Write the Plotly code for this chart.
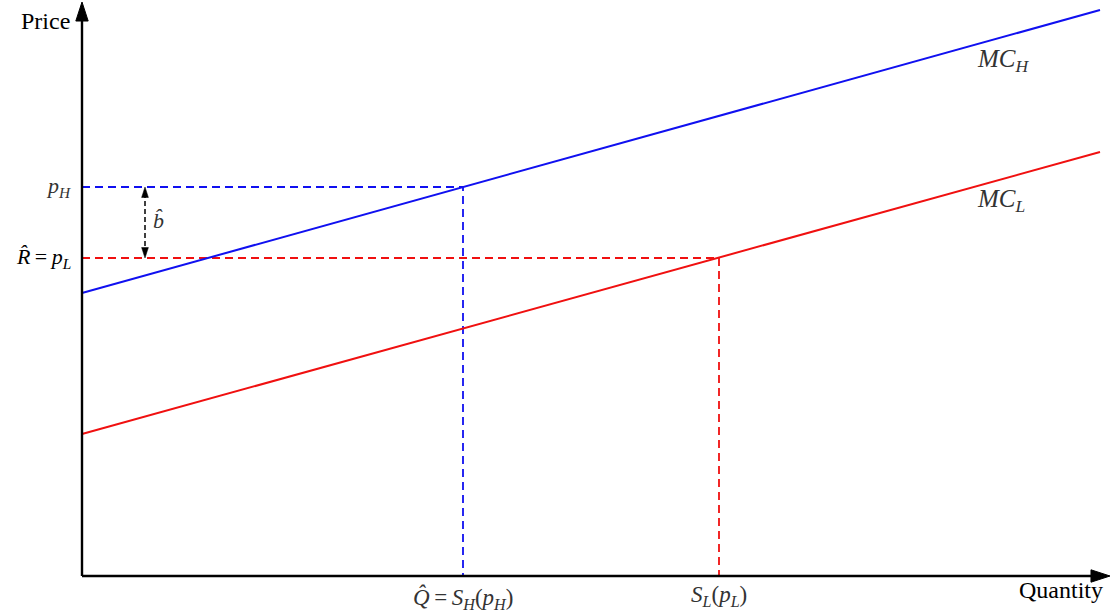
import plotly.graph_objects as go

# Marginal cost schedules (endpoints of each straight line)
quantity_ends = [0.0, 10.18]
mc_high = [2.83, 5.66]
mc_low = [1.42, 4.24]

# Prices and the quantities supplied at them
p_high = 3.89
p_low = 3.18
q_hat = 3.81
s_low = 6.37

# Axis extents
x_max = 10.28
y_max = 5.74

BLUE = "#1010f0"
RED = "#f01010"
SERIF = "Liberation Serif, DejaVu Serif, serif"
LABEL_GRAY = "#333333"

fig = go.Figure()

# Dashed guides from the price levels to the supply quantities
fig.add_trace(go.Scatter(
    x=[0, q_hat, q_hat], y=[p_high, p_high, 0], mode="lines",
    line=dict(color=BLUE, width=1.8, dash="8px,5px"), hoverinfo="skip"))
fig.add_trace(go.Scatter(
    x=[0, s_low, s_low], y=[p_low, p_low, 0], mode="lines",
    line=dict(color=RED, width=1.8, dash="8px,5px"), hoverinfo="skip"))

# Marginal cost curves
fig.add_trace(go.Scatter(x=quantity_ends, y=mc_high, mode="lines",
                         line=dict(color=BLUE, width=2), hoverinfo="skip"))
fig.add_trace(go.Scatter(x=quantity_ends, y=mc_low, mode="lines",
                         line=dict(color=RED, width=2), hoverinfo="skip"))

# Coordinate axes, each ending in an arrow tip
for ax_x, ax_y in (([0, x_max - 0.05], [0, 0]), ([0, 0], [0, y_max - 0.05])):
    fig.add_trace(go.Scatter(
        x=ax_x, y=ax_y, mode="lines", hoverinfo="skip",
        line=dict(color="black", width=2.4)))
fig.add_trace(go.Scatter(
    x=[x_max, 0], y=[0, y_max], mode="markers", hoverinfo="skip",
    marker=dict(symbol="arrow", angleref="up", angle=[90, 0], size=20,
                color="black", line=dict(color="black", width=1))))

# Double-headed dashed gap marker between the two prices
b_x = 0.63
fig.add_trace(go.Scatter(x=[b_x, b_x], y=[p_high - 0.06, p_low + 0.06], mode="lines",
                         line=dict(color="black", width=1.5, dash="5px,3px"),
                         hoverinfo="skip"))
fig.add_trace(go.Scatter(x=[b_x, b_x], y=[p_high, p_low], mode="markers",
                         hoverinfo="skip",
                         marker=dict(symbol="arrow", angleref="up", angle=[0, 180],
                                     size=11, color="black",
                                     line=dict(color="black", width=0.5))))

annotations = []


def label(x, y, text, xanchor="center", size=20, color="black", yanchor="middle"):
    annotations.append(dict(
        x=x, y=y, xref="x", yref="y", text=text, showarrow=False,
        xanchor=xanchor, yanchor=yanchor,
        font=dict(family=SERIF, size=size, color=color)))


label(-0.10, y_max - 0.19, "Price", xanchor="right", size=24)
label(10.23, -0.14, "Quantity", xanchor="right", size=24)
label(-0.09, p_high, "<i>p</i><sub><i>H</i></sub>", xanchor="right", size=22, color=LABEL_GRAY)
label(-0.09, p_low, "<i>R̂</i>\u2009=\u2009<i>p</i><sub><i>L</i></sub>",
      xanchor="right", size=22)
label(q_hat, -0.22,
      "<i>Q̂</i>\u2009=\u2009<i>S</i><sub><i>H</i></sub>(<i>p</i><sub><i>H</i></sub>)",
      size=23, color=LABEL_GRAY)
label(s_low, -0.2, "<i>S</i><sub><i>L</i></sub>(<i>p</i><sub><i>L</i></sub>)",
      size=23, color=LABEL_GRAY)
label(8.93, 5.16, "<i>MC</i><sub><i>H</i></sub>", xanchor="left", size=25, color=LABEL_GRAY)
label(8.93, 3.76, "<i>MC</i><sub><i>L</i></sub>", xanchor="left", size=25, color=LABEL_GRAY)
label(b_x + 0.06, 3.56, "<i>b̂</i>", xanchor="left", size=22, color=LABEL_GRAY)

px_per_unit = 100.0
fig.update_layout(
    width=1120, height=615, autosize=False,
    margin=dict(l=0, r=0, t=0, b=0),
    paper_bgcolor="white", plot_bgcolor="white",
    showlegend=False,
    xaxis=dict(range=[-82 / px_per_unit, (1120 - 82) / px_per_unit], visible=False,
               fixedrange=True),
    yaxis=dict(range=[-(615 - 576) / px_per_unit, 576 / px_per_unit], visible=False,
               fixedrange=True),
    annotations=annotations,
)

fig.write_html("out.html")
